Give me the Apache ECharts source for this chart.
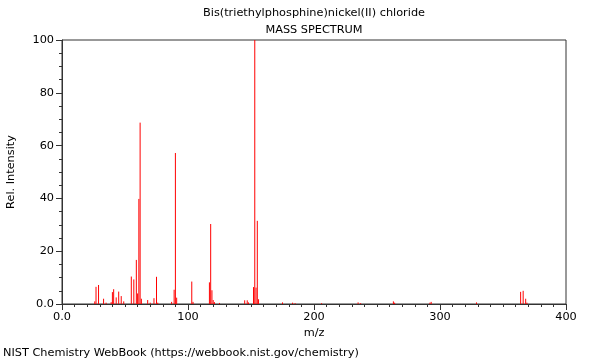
<!DOCTYPE html>
<html><head><meta charset="utf-8">
<script src="https://cdn.jsdelivr.net/npm/echarts@6/dist/echarts.min.js"></script>
<style>html,body{margin:0;padding:0;background:#fff}#c{width:600px;height:360px}</style>
</head><body><div id="c"></div>
<script>
const titleText = "Bis(triethylphosphine)nickel(II) chloride";
const subtitleText = "MASS SPECTRUM";
const xAxisName = "m/z";
const yAxisName = "Rel. Intensity";
const footerText = "NIST Chemistry WebBook (https://webbook.nist.gov/chemistry)";
const mz = [26, 27, 29, 33, 35, 39, 40, 41, 43, 45, 47, 49, 55, 57, 59, 60, 61, 62, 63, 68, 70, 73, 75, 76, 87, 89, 90, 91, 103, 104, 117, 118, 119, 120, 121, 125, 145, 147, 148, 152, 153, 154, 155, 156, 175, 183, 185, 206, 235, 237, 263, 264, 292, 293, 329, 364, 366, 368, 369];
const intensity = [1, 6.5, 7.2, 2, 0.5, 0.7, 4.5, 5.6, 2.5, 4.7, 3, 1, 10.4, 9.3, 16.7, 4, 39.8, 68.7, 2, 1.5, 0.5, 2.2, 10.3, 0.5, 0.8, 5.4, 57.2, 2.4, 8.5, 0.8, 8.2, 30.3, 5.2, 1.5, 0.7, 0.4, 1.4, 1.4, 0.6, 6.4, 100, 6.2, 31.5, 1.8, 0.6, 0.5, 0.3, 0.3, 0.6, 0.3, 1, 0.5, 0.5, 0.8, 0.6, 4.6, 5, 2, 0.5];
const xTicks = [0, 100, 200, 300, 400];
const yTicks = [0, 20, 40, 60, 80, 100];

const data = mz.map((m, i) => [m, intensity[i]]);
const chart = echarts.init(document.getElementById('c'), null, {renderer: 'canvas'});
const font = 'DejaVu Sans';
const ts = {fontSize: 11.3, fontWeight: 'normal', color: '#000', fontFamily: font};
chart.setOption({
  animation: false,
  backgroundColor: '#fff',
  textStyle: {fontFamily: font},
  title: [
    {text: titleText, left: 314, top: 8, padding: 0, textAlign: 'center', textStyle: ts},
    {text: subtitleText, left: 314, top: 25, padding: 0, textAlign: 'center', textStyle: ts},
    {text: footerText, left: 3, top: 348, padding: 0, textStyle: ts}
  ],
  grid: {left: 62, right: 34, top: 40, bottom: 56, containLabel: false, outerBoundsMode: 'none', show: true, borderColor: '#333', borderWidth: 1, backgroundColor: 'transparent'},
  xAxis: {
    type: 'value', min: xTicks[0], max: xTicks[xTicks.length - 1], interval: 100,
    name: xAxisName, nameLocation: 'middle', nameGap: 24,
    nameTextStyle: {fontSize: 11.3, color: '#000', fontFamily: font},
    axisLine: {lineStyle: {color: '#333'}},
    axisTick: {show: true, length: 6, lineStyle: {color: '#333'}},
    minorTick: {show: true, splitNumber: 10, length: 3, lineStyle: {color: '#333'}},
    splitLine: {show: false},
    axisLabel: {fontSize: 11.3, color: '#000', margin: 8, fontFamily: font, formatter: v => v === 0 ? '0.0' : String(v)}
  },
  yAxis: {
    type: 'value', min: yTicks[0], max: yTicks[yTicks.length - 1], interval: 20,
    name: yAxisName, nameLocation: 'middle', nameGap: 45, nameRotate: 90,
    nameTextStyle: {fontSize: 11.3, color: '#000', fontFamily: font},
    axisLine: {show: true, lineStyle: {color: '#333'}},
    axisTick: {show: true, length: 6, lineStyle: {color: '#333'}},
    minorTick: {show: true, splitNumber: 4, length: 3, lineStyle: {color: '#333'}},
    splitLine: {show: false},
    axisLabel: {fontSize: 11.3, color: '#000', margin: 8, fontFamily: font, formatter: v => v === 0 ? '0.0' : String(v)}
  },
  series: [{
    type: 'custom',
    data: data,
    clip: true,
    renderItem: function (params, api) {
      const p0 = api.coord([api.value(0), 0]);
      const p1 = api.coord([api.value(0), api.value(1)]);
      return {
        type: 'line',
        shape: {x1: p0[0], y1: p0[1], x2: p1[0], y2: p1[1]},
        style: {stroke: '#ff0000', lineWidth: 1}
      };
    }
  }]
});
</script>
</body></html>
